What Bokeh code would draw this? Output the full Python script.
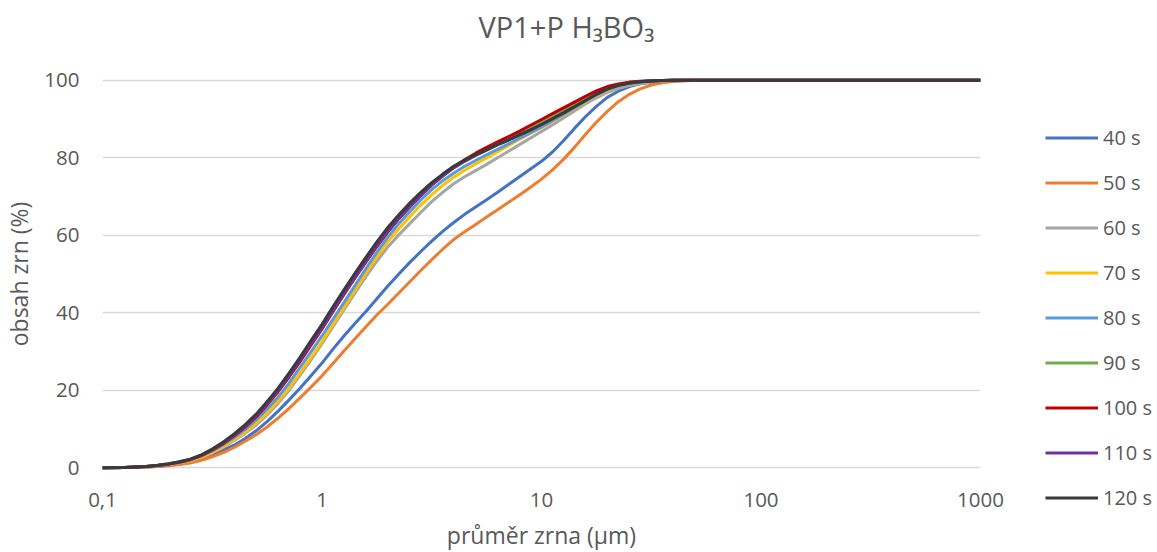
from bokeh.plotting import figure
from bokeh.models import (Legend, LegendItem, FixedTicker, CustomJSTickFormatter,
                          Range1d, Title)
from bokeh.embed import file_html
from bokeh.resources import INLINE

# ---- data ----
diameter_um = [0.1, 0.126, 0.158, 0.178, 0.2, 0.224, 0.251, 0.282, 0.316, 0.355,
               0.398, 0.447, 0.501, 0.562, 0.631, 0.708, 0.794, 0.891, 1, 1.122,
               1.259, 1.413, 1.585, 1.778, 1.995, 2.239, 2.512, 2.818, 3.162, 3.548,
               3.981, 4.467, 5.012, 5.623, 6.31, 7.079, 7.943, 8.913, 10, 11.22,
               12.59, 14.13, 15.85, 17.78, 19.95, 22.39, 25.12, 28.18, 31.62, 35.48,
               39.81, 50, 100, 1000]

s40 = [0, 0.02, 0.15, 0.35, 0.6, 0.95, 1.4, 2.2, 3.3, 4.5,
       5.8, 7.5, 9.5, 11.9, 14.6, 17.5, 20.5, 23.7, 27, 30.6,
       34, 37.2, 40.3, 43.6, 46.9, 50, 53, 55.8, 58.5, 61,
       63.3, 65.4, 67.3, 69.2, 71.1, 73.1, 75.1, 77.1, 79.1, 81.5,
       84.4, 87.6, 90.6, 93.3, 95.6, 97.2, 98.4, 99.1, 99.5, 99.75,
       99.9, 100, 100, 100]
s50 = [0, 0.02, 0.12, 0.28, 0.5, 0.8, 1.2, 1.9, 2.8, 3.9,
       5.2, 6.8, 8.5, 10.5, 12.8, 15.3, 18, 20.8, 23.7, 26.9,
       30.1, 33.3, 36.4, 39.4, 42.2, 45.1, 48, 50.9, 53.7, 56.4,
       58.9, 60.9, 62.8, 64.7, 66.6, 68.5, 70.4, 72.4, 74.5, 76.9,
       79.6, 82.7, 86, 89.2, 92, 94.5, 96.4, 97.8, 98.8, 99.4,
       99.7, 100, 100, 100]
s60 = [0, 0.03, 0.2, 0.45, 0.8, 1.2, 1.8, 2.7, 3.8, 5.2,
       7, 8.9, 11, 13.6, 16.6, 20, 23.8, 27.8, 32, 36.4,
       40.7, 45.1, 49.3, 53.3, 57, 60.1, 63, 65.9, 68.7, 71.1,
       73.3, 75.1, 76.7, 78.3, 80, 81.7, 83.4, 85.1, 86.8, 88.5,
       90.3, 92.1, 93.9, 95.5, 96.9, 97.9, 98.7, 99.2, 99.6, 99.85,
       100, 100, 100, 100]
s70 = [0, 0.03, 0.2, 0.45, 0.8, 1.3, 1.8, 2.7, 3.9, 5.4,
       7.2, 9.2, 11.5, 14.1, 17.1, 20.6, 24.4, 28.4, 32.5, 36.9,
       41.3, 45.8, 50.2, 54.4, 58.3, 61.7, 64.8, 67.8, 70.5, 72.9,
       75, 76.8, 78.4, 80, 81.6, 83.2, 84.8, 86.3, 87.8, 89.4,
       91, 92.7, 94.4, 96, 97.4, 98.4, 99, 99.45, 99.75, 99.9,
       100, 100, 100, 100]
s80 = [0, 0.03, 0.2, 0.5, 0.9, 1.4, 2, 3, 4.3, 5.9,
       7.8, 9.9, 12.3, 15.1, 18.2, 21.8, 25.8, 29.9, 34, 38.3,
       42.6, 47, 51.4, 55.6, 59.5, 63, 66.1, 69.1, 71.8, 74.1,
       76, 77.8, 79.3, 80.8, 82.2, 83.6, 85.1, 86.5, 88, 89.6,
       91.2, 92.9, 94.6, 96.2, 97.6, 98.5, 99.1, 99.5, 99.8, 99.93,
       100, 100, 100, 100]
s90 = [0, 0.05, 0.29, 0.55, 0.92, 1.42, 2.08, 3.12, 4.55, 6.28,
       8.3, 10.6, 13.25, 16.35, 19.75, 23.55, 27.6, 31.8, 35.95, 40.4,
       44.8, 49.1, 53.2, 57.2, 60.95, 64.35, 67.4, 70.3, 73, 75.35,
       77.5, 79.3, 80.9, 82.4, 83.8, 85.1, 86.4, 87.8, 89.2, 90.7,
       92.2, 93.8, 95.3, 96.8, 98.1, 98.9, 99.4, 99.7, 99.88, 99.96,
       100, 100, 100, 100]
s100 = [0, 0.05, 0.28, 0.55, 0.9, 1.4, 2.05, 3.1, 4.5, 6.2,
        8.2, 10.5, 13.1, 16.2, 19.6, 23.4, 27.4, 31.6, 35.8, 40.3,
        44.7, 49, 53.1, 57.1, 60.9, 64.3, 67.4, 70.3, 73, 75.4,
        77.6, 79.5, 81.2, 82.7, 84.1, 85.5, 86.9, 88.4, 89.9, 91.4,
        92.9, 94.4, 95.9, 97.3, 98.4, 99.1, 99.55, 99.8, 99.92, 99.97,
        100, 100, 100, 100]
s110 = [0, 0.05, 0.3, 0.55, 0.95, 1.45, 2.1, 3.15, 4.6, 6.35,
        8.4, 10.75, 13.4, 16.5, 19.9, 23.7, 27.8, 32, 36.1, 40.5,
        44.9, 49.2, 53.3, 57.3, 61, 64.4, 67.4, 70.3, 73, 75.3,
        77.4, 79.1, 80.6, 82, 83.4, 84.6, 85.9, 87.2, 88.6, 90.1,
        91.6, 93.2, 94.8, 96.4, 97.8, 98.7, 99.3, 99.65, 99.85, 99.95,
        100, 100, 100, 100]
s120 = [0, 0.05, 0.3, 0.6, 1, 1.5, 2.2, 3.3, 4.8, 6.6,
        8.7, 11.1, 13.8, 17, 20.5, 24.4, 28.5, 32.8, 37, 41.5,
        45.9, 50.2, 54.3, 58.3, 62, 65.3, 68.3, 71.1, 73.6, 75.8,
        77.8, 79.4, 80.8, 82.1, 83.4, 84.6, 85.9, 87.2, 88.6, 90.1,
        91.6, 93.2, 94.8, 96.4, 97.8, 98.7, 99.3, 99.65, 99.85, 99.95,
        100, 100, 100, 100]

series_names = ["40 s", "50 s", "60 s", "70 s", "80 s", "90 s", "100 s", "110 s", "120 s"]
series_values = [s40, s50, s60, s70, s80, s90, s100, s110, s120]
series_colors = ["#4472C4", "#ED7D31", "#A5A5A5", "#FFC000", "#5B9BD5",
                 "#70AD47", "#C00000", "#7030A0", "#3A3A3A"]

x_ticks = [0.1, 1, 10, 100, 1000]
y_ticks = [0, 20, 40, 60, 80, 100]

title_text = "VP1+P H\u2083BO\u2083"
x_label = "pr\u016fm\u011br zrna (\u00b5m)"
y_label = "obsah zrn (%)"

FONT = "Open Sans"
TXT = "#595959"

p = figure(frame_width=878, frame_height=395, output_backend="svg", toolbar_location=None,
           x_axis_type="log", x_range=Range1d(0.1, 1000), y_range=Range1d(-1, 101),
           min_border_left=95, min_border_right=166, min_border_top=76, min_border_bottom=81)
p.outline_line_color = None
p.background_fill_color = "white"
p.border_fill_color = "white"

# real title (outer), spacer panel added later sits next to the frame
p.title = Title(text=title_text, align="left", offset=376,
                text_font=FONT, text_font_size="29px", text_color=TXT,
                text_font_style="normal", standoff=4)
p.add_layout(Title(text=" ", text_font=FONT, text_font_size="1px", standoff=26), "above")

renderers = []
for name, vals, col in zip(series_names, series_values, series_colors):
    assert len(vals) == len(diameter_um)
    r = p.line(diameter_um, vals, line_color=col, line_width=3, line_join="round")
    renderers.append((name, r))

# axes
p.xaxis.ticker = FixedTicker(ticks=x_ticks)
p.xaxis.formatter = CustomJSTickFormatter(
    code="return (Math.round(tick*10)/10).toString().replace('.', ',');")
p.yaxis.ticker = FixedTicker(ticks=y_ticks)
for ax in (p.xaxis[0], p.yaxis[0]):
    ax.major_tick_line_color = None
    ax.minor_tick_line_color = None
    ax.major_tick_out = 0
    ax.major_tick_in = 0
    ax.minor_tick_out = 0
    ax.minor_tick_in = 0
    ax.major_label_text_font = FONT
    ax.major_label_text_font_size = "20.5px"
    ax.major_label_text_color = TXT
    ax.axis_label_text_font = FONT
    ax.axis_label_text_font_size = "23px"
    ax.axis_label_text_color = TXT
    ax.axis_label_text_font_style = "normal"
    ax.axis_line_color = None
p.xaxis.major_label_standoff = 21
p.yaxis.major_label_standoff = 23
p.xaxis.axis_label = x_label
p.yaxis.axis_label = y_label
p.xaxis.axis_label_standoff = 9
p.yaxis.axis_label_standoff = 6

p.xgrid.grid_line_color = None
p.ygrid.grid_line_color = "#D9D9D9"
p.ygrid.grid_line_width = 1.5

legend = Legend(items=[LegendItem(label=n, renderers=[r]) for n, r in renderers],
                location=(65, -40), orientation="vertical",
                glyph_width=53, glyph_height=27, label_height=27, spacing=18,
                label_standoff=5, padding=0, margin=0,
                label_text_font=FONT, label_text_font_size="20px", label_text_color=TXT,
                border_line_color=None, background_fill_alpha=0)
p.add_layout(legend, "right")

open("out.html", "w").write(file_html(p, INLINE))
